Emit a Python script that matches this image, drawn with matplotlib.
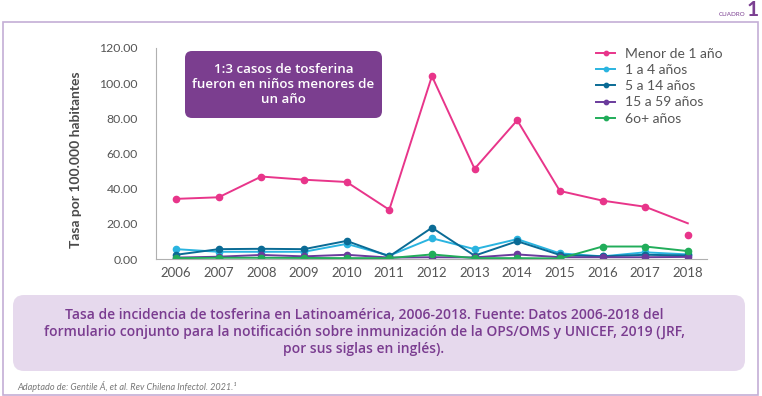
import matplotlib.pyplot as plt
from matplotlib.patches import FancyBboxPatch, Rectangle

plt.rcParams['font.family'] = ['Lato', 'DejaVu Sans']

# datos (tasa por 100.000 habitantes)
anios = [2006, 2007, 2008, 2009, 2010, 2011, 2012, 2013, 2014, 2015, 2016, 2017, 2018]
menor_1 = [34.2, 35.1, 46.9, 45.1, 43.8, 28.0, 104.0, 51.3, 78.9, 38.7, 33.2, 29.7, 20.3]
menor_1_punto_2018 = 13.7
de_1_a_4 = [5.6, 4.1, 4.1, 4.1, 8.6, 1.9, 11.8, 5.6, 11.3, 3.2, 1.5, 3.8, 2.6]
de_5_a_14 = [2.4, 5.6, 5.8, 5.6, 10.3, 1.5, 17.8, 1.9, 10.1, 2.3, 1.5, 2.4, 2.0]
de_15_a_59 = [0.8, 1.3, 2.3, 1.5, 2.4, 0.8, 1.0, 0.9, 2.6, 1.0, 1.0, 1.0, 1.2]
mayor_60 = [0.5, 0.7, 0.7, 0.6, 0.5, 0.5, 2.6, 0.5, 0.5, 0.3, 7.1, 7.1, 4.5]

etiquetas = ['Menor de 1 año', '1 a 4 años', '5 a 14 años', '15 a 59 años', '6o+ años']
colores = ['#e8358a', '#2ab4e0', '#0a6b95', '#6a3b9c', '#21ad5a']
yticks = [0, 20, 40, 60, 80, 100, 120]

W, H = 762, 396
fig = plt.figure(figsize=(W / 100, H / 100), dpi=100)

# capa de fondo en pixeles
bg = fig.add_axes([0, 0, 1, 1])
bg.set_xlim(0, W)
bg.set_ylim(H, 0)
bg.axis('off')

bg.add_patch(Rectangle((3, 22), 755, 373, fill=False, ec='#c4aed6', lw=1.2))
bg.text(745, 14, 'CUADRO', color='#7b3f91', fontsize=4.5, ha='right', va='center')
bg.text(747, 10, '1', color='#7b3f91', fontsize=15, fontweight='bold', ha='left', va='center')

bg.add_patch(FancyBboxPatch((13, 295), 732, 76, boxstyle='round,pad=0,rounding_size=11',
                            fc='#e6d9ed', ec='none'))
bg.text(364, 332, 'Tasa de incidencia de tosferina en Latinoamérica, 2006-2018. Fuente: Datos 2006-2018 del\n'
        'formulario conjunto para la notificación sobre inmunización de la OPS/OMS y UNICEF, 2019 (JRF,\n'
        'por sus siglas en inglés).', color='#7a3c90', fontsize=10, fontweight='semibold',
        family='Open Sans', ha='center', va='center', linespacing=1.3)
bg.text(17, 386, 'Adaptado de: Gentile Á, et al. Rev Chilena Infectol. 2021.¹', color='#777777',
        fontsize=6.6, style='italic', ha='left', va='center')

bg.add_patch(FancyBboxPatch((185, 51), 197, 67, boxstyle='round,pad=0,rounding_size=7',
                            fc='#7b3e8f', ec='none'))
bg.text(283.5, 84.5, '1:3 casos de tosferina\nfueron en niños menores de\nun año', color='white',
        fontsize=9.6, fontweight='semibold', family='Open Sans', ha='center', va='center',
        linespacing=1.2)

bg.text(76, 160, 'Tasa por 100.000 habitantes', rotation=90, color='#4a4a4a', fontsize=10,
        fontweight='bold', ha='center', va='center')

# grafico
ax = fig.add_axes([156 / W, 1 - 259 / H, (707 - 156) / W, (259 - 48) / H])
ax.patch.set_alpha(0)

series = [menor_1, de_1_a_4, de_5_a_14, de_15_a_59, mayor_60]
for i, (vals, lab, c) in enumerate(zip(series, etiquetas, colores)):
    if i == 0:
        ax.plot(anios, vals, color=c, lw=1.4, label=lab, marker='o', ms=4.5, markevery=list(range(len(anios) - 1)))
        ax.plot(anios[-1], menor_1_punto_2018, 'o', color=c, ms=4.5)
    else:
        ax.plot(anios, vals, color=c, lw=1.4, marker='o', ms=4.5, label=lab)

ax.set_xlim(2005.53, 2018.45)
ax.set_ylim(0, 120)
ax.set_xticks(anios)
ax.set_yticks(yticks)
ax.set_yticklabels(['%.2f' % v for v in yticks])
for s in ['top', 'right']:
    ax.spines[s].set_visible(False)
ax.spines['left'].set_color('#b0b0b0')
ax.spines['bottom'].set_color('#b0b0b0')
ax.tick_params(axis='y', length=0, pad=13, labelsize=8.8, labelcolor='#555555')
ax.tick_params(axis='x', length=0, pad=6, labelsize=9.5, labelcolor='#555555')

fig.legend(loc='upper left', bbox_to_anchor=(596 / W, 1 - 48 / H), frameon=False, fontsize=10,
           handlelength=1.4, handletextpad=0.7, labelspacing=0.3, borderpad=0, borderaxespad=0,
           labelcolor='#555555', markerscale=0.7)

fig.savefig('out.png', dpi=100)
